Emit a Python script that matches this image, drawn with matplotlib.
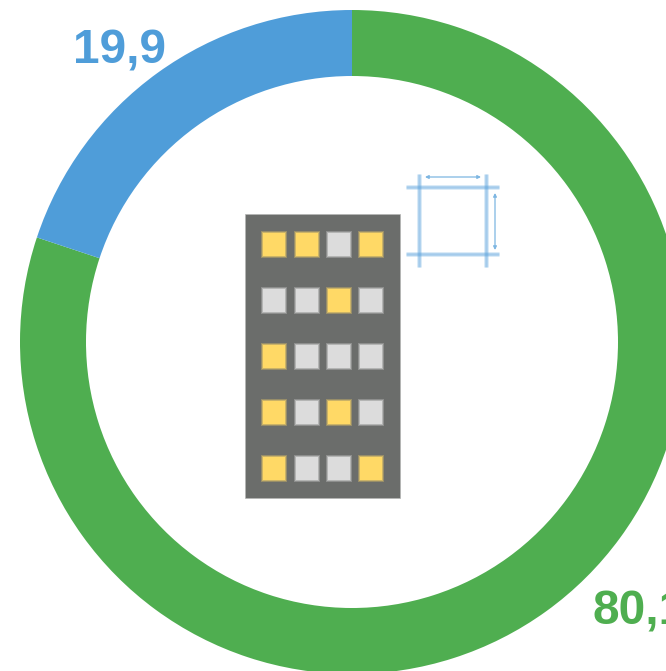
#!/usr/bin/env python3
# -*- coding: utf-8 -*-

import matplotlib
matplotlib.use('Agg')
import matplotlib.pyplot as plt
from matplotlib.patches import Rectangle

W, H = 666, 671

# donut values
shares = [80.1, 19.9]
share_labels = ['80,1', '19,9']
share_colors = ['#4FAE50', '#4F9DD9']

# windows of the building icon, row by row: 1 = lit, 0 = dark
windows = [
    [1, 1, 0, 1],
    [0, 0, 1, 0],
    [1, 0, 0, 0],
    [1, 0, 1, 0],
    [1, 0, 0, 1],
]
window_colors = {0: '#DCDCDC', 1: '#FFD966'}


def flip(y):
    # reference pixels count from the top
    return H - y


def draw_building(ax):
    ax.add_patch(Rectangle((245, flip(498)), 155, 284, fc='#6B6D6B', ec='#B5B6B5', lw=0.5, zorder=3))
    xs = [262, 295, 327, 359]
    ys = [232, 288, 344, 400, 456]
    for row, y in zip(windows, ys):
        for state, x in zip(row, xs):
            # stacked layers for the soft edge of the blurred bitmap in the original
            for grow, alpha in ((1, 0.3), (0, 0.5), (-1, 1.0)):
                ax.add_patch(Rectangle((x - grow, flip(y + 25 + grow)), 24 + 2 * grow, 25 + 2 * grow,
                                       fc=window_colors[state], ec='none', alpha=alpha, zorder=4))


def draw_plan(ax):
    col = '#5BA3DC'
    for width, alpha in ((3.4, 0.25), (1.8, 0.4)):
        for x in (419, 486):
            ax.plot([x, x], [flip(174), flip(267)], color=col, lw=width, alpha=alpha,
                    solid_capstyle='butt', zorder=3)
        for y in (187, 254):
            ax.plot([406, 499], [flip(y), flip(y)], color=col, lw=width, alpha=alpha,
                    solid_capstyle='butt', zorder=3)
    arrow = dict(arrowstyle='<|-|>', color='#7DB6E2', lw=0.9, mutation_scale=5, shrinkA=0, shrinkB=0)
    ax.annotate('', xy=(425, flip(177)), xytext=(481, flip(177)), arrowprops=arrow, zorder=4)
    ax.annotate('', xy=(495, flip(193)), xytext=(495, flip(250)), arrowprops=arrow, zorder=4)


def main():
    fig = plt.figure(figsize=(W / 100, H / 100), dpi=100)
    ax = fig.add_axes([0, 0, 1, 1])

    ax.pie(shares, colors=share_colors, startangle=90, counterclock=False,
           center=(352, flip(342)), radius=332, frame=True,
           wedgeprops=dict(width=66, linewidth=0))

    draw_plan(ax)
    draw_building(ax)

    font = dict(family='Liberation Sans', fontweight='bold', fontsize=34.4, va='baseline', ha='left')
    ax.text(592, flip(625), share_labels[0], color=share_colors[0], **font)
    ax.text(73, flip(63.5), share_labels[1], color=share_colors[1], **font)

    ax.set_xlim(0, W)
    ax.set_ylim(0, H)
    ax.set_aspect('auto')
    ax.axis('off')

    fig.savefig('out.png', dpi=100, facecolor='white')


if __name__ == '__main__':
    main()
